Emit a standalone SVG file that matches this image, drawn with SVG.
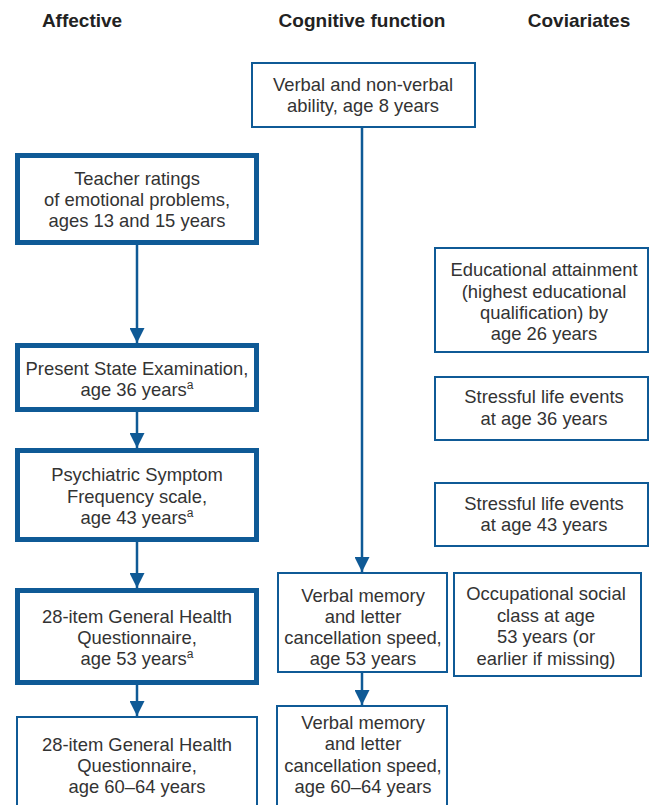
<svg xmlns="http://www.w3.org/2000/svg" width="650" height="805" viewBox="0 0 650 805">
<defs>
<style>
.h{font-family:"Liberation Sans",Arial,sans-serif;font-weight:bold;font-size:19px;fill:#222;text-anchor:middle}
.t{font-family:"Liberation Sans",Arial,sans-serif;font-size:18.4px;fill:#333;text-anchor:middle}
.thin{fill:#fff;stroke:#0f5a96;stroke-width:2}
.thick{fill:#fff;stroke:#0f5a96;stroke-width:5}
.c{stroke:#0f5a96;stroke-width:2.5;fill:none;marker-end:url(#ah)}
.sup{font-size:12px}
</style>
<marker id="ah" viewBox="0 0 10 10" refX="10" refY="5" markerWidth="6" markerHeight="6" markerUnits="strokeWidth" orient="auto">
<path d="M0,0 L10,5 L0,10 z" fill="#0f5a96"/>
</marker>
</defs>
<rect width="650" height="805" fill="#fff"/>
<g id="headers">
<text class="h" x="82" y="27">Affective</text>
<text class="h" x="362" y="27">Cognitive function</text>
<text class="h" x="579" y="27">Coviariates</text>
</g>
<g id="connectors">
<line class="c" x1="362" y1="127" x2="362" y2="572"/>
<line class="c" x1="137" y1="245" x2="137" y2="343"/>
<line class="c" x1="137" y1="412" x2="137" y2="448"/>
<line class="c" x1="137" y1="542" x2="137" y2="588"/>
<line class="c" x1="137" y1="685" x2="137" y2="716"/>
<line class="c" x1="362" y1="672" x2="362" y2="705"/>
</g>
<g id="n-verbal8">
<rect class="thin" x="252" y="63" width="223" height="64"/>
<text class="t" x="363" y="91">Verbal and non-verbal</text>
<text class="t" x="363" y="112">ability, age 8 years</text>
</g>
<g id="n-teacher">
<rect class="thick" x="17.5" y="155.5" width="239" height="87"/>
<text class="t" x="137" y="185">Teacher ratings</text>
<text class="t" x="137" y="206">of emotional problems,</text>
<text class="t" x="137" y="227">ages 13 and 15 years</text>
</g>
<g id="n-pse">
<rect class="thick" x="17.5" y="345.5" width="239" height="64"/>
<text class="t" x="137" y="375">Present State Examination,</text>
<text class="t" x="137" y="396">age 36 years<tspan class="sup" dy="-7">a</tspan></text>
</g>
<g id="n-psf">
<rect class="thick" x="17.5" y="450.5" width="239" height="89"/>
<text class="t" x="137" y="481">Psychiatric Symptom</text>
<text class="t" x="137" y="503">Frequency scale,</text>
<text class="t" x="137" y="524">age 43 years<tspan class="sup" dy="-7">a</tspan></text>
</g>
<g id="n-ghq53">
<rect class="thick" x="17.5" y="590.5" width="239" height="92"/>
<text class="t" x="137" y="623">28-item General Health</text>
<text class="t" x="137" y="644">Questionnaire,</text>
<text class="t" x="137" y="665">age 53 years<tspan class="sup" dy="-7">a</tspan></text>
</g>
<g id="n-ghq60">
<rect class="thin" x="17" y="717" width="240" height="95"/>
<text class="t" x="137" y="751">28-item General Health</text>
<text class="t" x="137" y="772">Questionnaire,</text>
<text class="t" x="137" y="793">age 60–64 years</text>
</g>
<g id="n-vm53">
<rect class="thin" x="278" y="573" width="169" height="99"/>
<text class="t" x="363" y="602">Verbal memory</text>
<text class="t" x="363" y="623">and letter</text>
<text class="t" x="363" y="644">cancellation speed,</text>
<text class="t" x="363" y="665">age 53 years</text>
</g>
<g id="n-vm60">
<rect class="thin" x="277" y="706" width="170" height="105"/>
<text class="t" x="363" y="729">Verbal memory</text>
<text class="t" x="363" y="750">and letter</text>
<text class="t" x="363" y="772">cancellation speed,</text>
<text class="t" x="363" y="793">age 60–64 years</text>
</g>
<g id="n-edu">
<rect class="thin" x="435" y="248" width="213" height="104"/>
<text class="t" x="544" y="276">Educational attainment</text>
<text class="t" x="544" y="298">(highest educational</text>
<text class="t" x="544" y="319">qualification) by</text>
<text class="t" x="544" y="340">age 26 years</text>
</g>
<g id="n-sle36">
<rect class="thin" x="435" y="377" width="213" height="63"/>
<text class="t" x="544" y="403">Stressful life events</text>
<text class="t" x="544" y="425">at age 36 years</text>
</g>
<g id="n-sle43">
<rect class="thin" x="435" y="483" width="213" height="63"/>
<text class="t" x="544" y="510">Stressful life events</text>
<text class="t" x="544" y="531">at age 43 years</text>
</g>
<g id="n-occ">
<rect class="thin" x="454" y="573" width="187" height="103"/>
<text class="t" x="546" y="600">Occupational social</text>
<text class="t" x="546" y="622">class at age</text>
<text class="t" x="546" y="643">53 years (or</text>
<text class="t" x="546" y="665">earlier if missing)</text>
</g>
</svg>
